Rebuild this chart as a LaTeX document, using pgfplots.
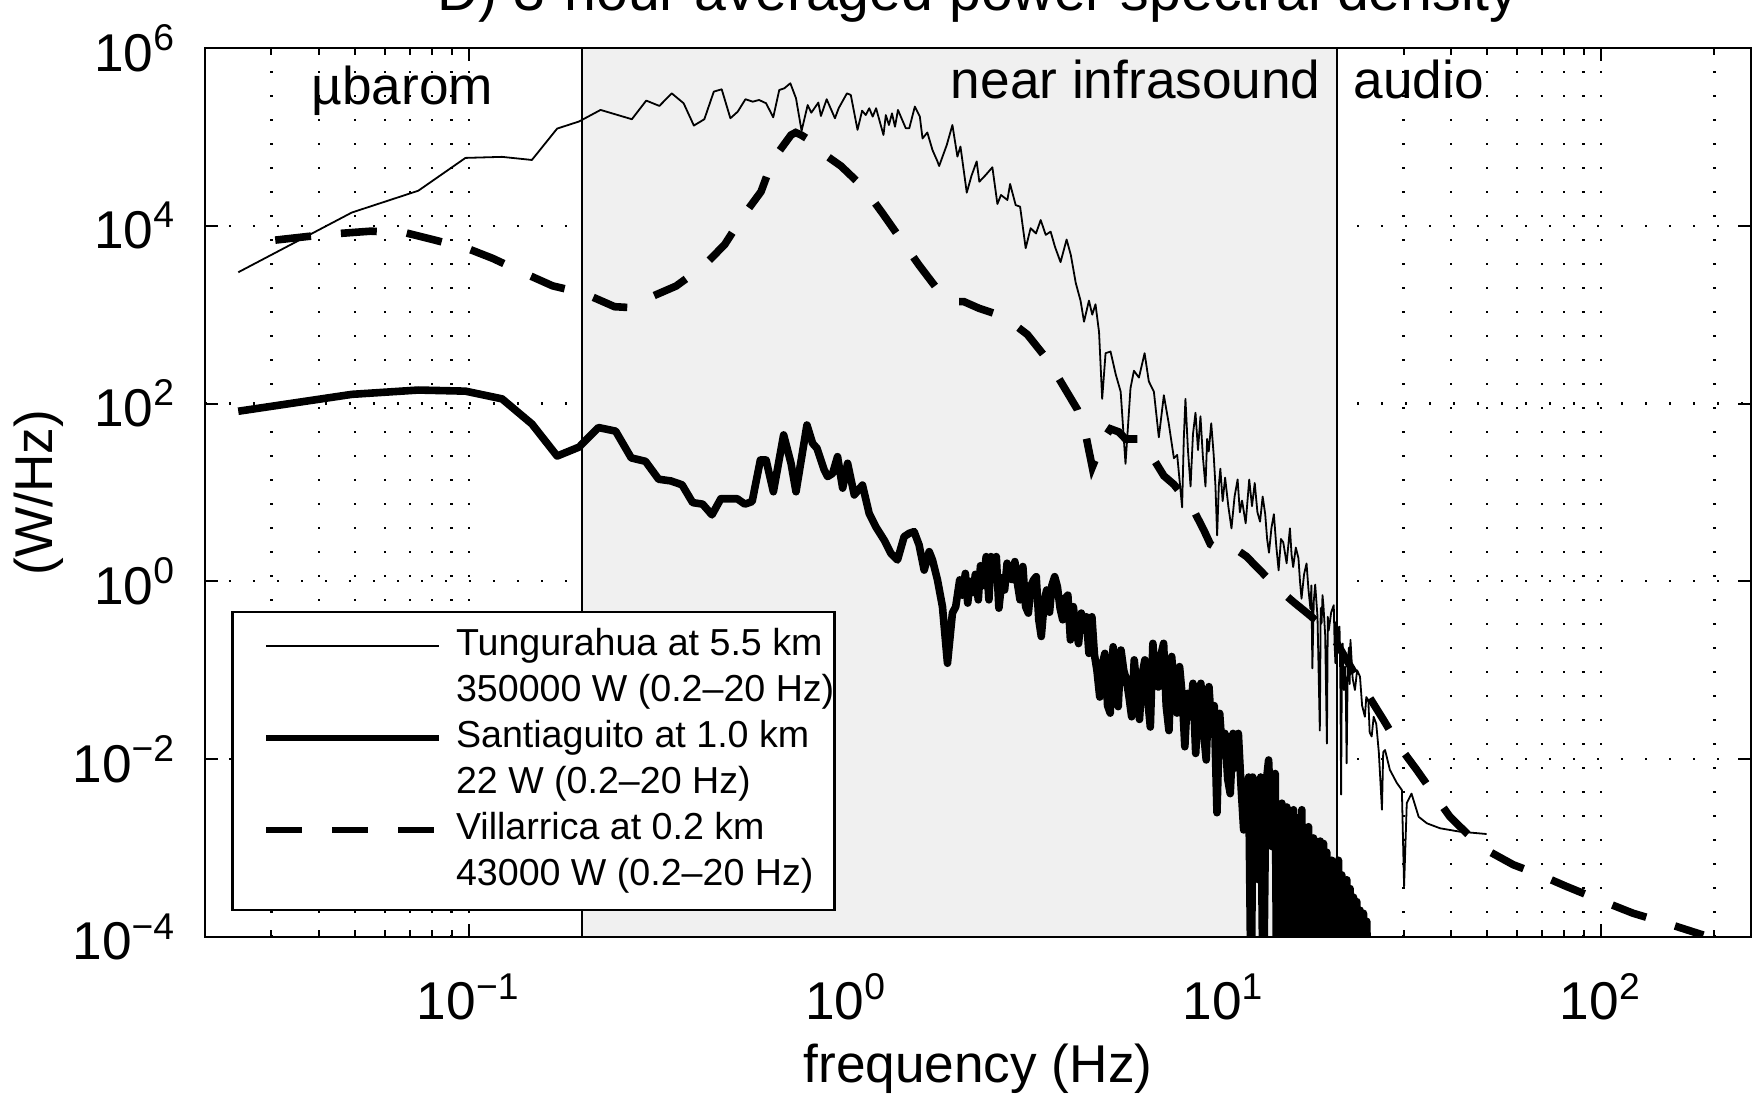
\documentclass[border=0pt]{standalone}
\usepackage{fontspec}
\setmainfont{Liberation Sans}
\usepackage{pgfplots}
\pgfplotsset{compat=1.18}
\definecolor{bandgray}{RGB}{240,240,240}
\newcommand{\lbl}{\fontsize{13.3}{16}\selectfont}

\pgfplotstableread{
f P
0.0245 3.0e3
0.049 1.41e4
0.0735 2.48e4
0.098 5.8e4
0.1225 5.96e4
0.147 5.5e4
0.1715 1.24e5
0.196 1.49e5
0.2235 2.01e5
0.2705 1.58e5
0.2953 2.56e5
0.320 2.23e5
0.345 3.09e5
0.371 2.39e5
0.395 1.34e5
0.421 1.58e5
0.446 3.23e5
0.468 3.43e5
0.4935 1.62e5
0.516 1.92e5
0.541 2.65e5
0.5655 2.49e5
0.588 2.60e5
0.6135 2.39e5
0.641 1.66e5
0.665 3.37e5
0.686 3.52e5
0.7115 4.01e5
0.7365 2.72e5
0.762 1.17e5
0.791 2.28e5
0.8085 1.87e5
0.844 2.43e5
0.8575 1.72e5
0.888 2.65e5
0.934 1.62e5
0.9555 2.10e5
1.005 3.09e5
1.029 2.96e5
1.072 1.20e5
1.1025 1.97e5
1.127 1.76e5
1.1515 2.10e5
1.176 1.69e5
1.2005 2.10e5
1.256 1.05e5
1.274 1.76e5
1.2985 1.36e5
1.323 1.84e5
1.3475 1.30e5
1.372 2.01e5
1.439 1.25e5
1.47 1.25e5
1.521 2.19e5
1.568 1.69e5
1.594 9.6e4
1.6415 1.12e5
1.694 7.1e4
1.746 5.3e4
1.764 4.7e4
1.848 8.1e4
1.913 1.36e5
1.972 6.0e4
2.009 7.8e4
2.088 2.36e4
2.148 3.63e4
2.218 5.3e4
2.254 3.13e4
2.344 3.73e4
2.441 4.55e4
2.517 1.76e4
2.5725 2.22e4
2.675 1.95e4
2.72 2.95e4
2.814 1.71e4
2.891 1.64e4
2.991 5.6e3
3.083 9.4e3
3.185 8.2e3
3.278 1.16e4
3.381 7.9e3
3.483 8.6e3
3.577 5.8e3
3.70 3.9e3
3.84 7.0e3
3.94 4.7e3
4.06 2.27e3
4.18 1.44e3
4.27 834
4.40 1.44e3
4.49 1.0e3
4.58 1.31e3
4.68 636
4.77 113
4.87 369
5.02 385
5.18 214
5.34 136
5.50 21
5.67 149
5.79 234
5.97 196
6.18 369
6.34 178
6.54 136
6.74 41.8
6.95 124
7.16 60
7.39 24.3
7.54 26.5
7.77 6.8
7.85 40
7.93 113
8.05 30
8.18 11.7
8.3 45
8.43 79
8.56 30
8.69 72
8.82 25
8.96 11.7
9.05 40
9.14 29
9.28 60
9.42 26.5
9.52 12
9.62 3.3
9.72 12
9.81 18.5
9.95 8
10.1 14.7
10.3 7
10.5 3.95
10.7 9
10.9 14.0
11.05 6
11.2 8.1
11.45 4.5
11.7 14.0
11.9 7
12.1 12.8
12.3 6
12.5 4.7
12.7 9
12.9 5.7
13.05 3
13.2 2.1
13.4 4
13.6 5.7
13.8 2.5
14.0 1.33
14.2 3
14.4 2.75
14.7 1.6
15.0 3.95
15.15 2
15.3 1.45
15.55 2.4
15.8 1.82
15.95 1.0
16.1 0.64
16.35 1.2
16.6 1.59
16.8 0.8
17.0 0.49
17.1 0.9
17.2 0.105
17.35 0.6
17.5 0.92
17.75 0.4
18.0 0.021
18.1 0.5
18.2 0.34
18.3 0.7
18.4 0.54
18.6 0.25
18.8 0.015
18.9 0.4
19.0 0.28
19.3 0.45
19.6 0.54
19.7 0.2
19.8 0.12
19.9 0.35
20.0 0.17
20.15 0.3
20.3 0.31
20.4 0.08
20.5 4.0e-3
20.6 0.15
20.7 0.2
20.85 0.06
21.0 0.11
21.1 0.05
21.2 9e-3
21.35 0.12
21.5 0.18
21.6 0.07
21.7 0.22
22.0 0.08
22.3 0.06
22.6 0.1
23.0 0.085
23.3 0.04
23.7 0.030
23.9 0.05
24.2 0.046
24.4 0.02
24.7 0.018
25.0 0.03
25.4 0.025
25.8 0.012
26.3 2.7e-3
26.5 0.012
26.8 0.0127
27.6 7.6e-3
28.8 5.4e-3
29.7 4.5e-3
30.1 3.7e-4
30.6 3.2e-3
31.5 4.1e-3
32.9 2.25e-3
34.6 1.9e-3
37.5 1.67e-3
42.3 1.53e-3
49.8 1.44e-3
}\tungurahua

\pgfplotstableread{
f P
0.0307 6.9e3
0.0376 7.6e3
0.0455 8.2e3
0.055 8.7e3
0.0683 8.3e3
0.0803 7.0e3
0.0998 5.5e3
0.1157 4.3e3
0.1418 2.87e3
0.1668 2.11e3
0.202 1.74e3
0.2434 1.23e3
0.27 1.2e3
0.2983 1.53e3
0.3544 2.1e3
0.417 3.47e3
0.476 6.1e3
0.532 1.27e4
0.595 2.42e4
0.639 5.5e4
0.7145 1.05e5
0.735 1.12e5
0.76 1.05e5
0.84 8.1e4
0.893 6.0e4
0.969 4.7e4
1.117 2.64e4
1.249 1.38e4
1.411 6.6e3
1.561 3.6e3
1.764 1.82e3
1.932 1.40e3
2.053 1.40e3
2.25 1.18e3
2.62 950
3.02 600
3.41 315
3.70 178
4.10 86
4.31 45.7
4.49 19.3
4.63 26.6
4.82 40
5.02 52
5.28 48
5.50 40
5.97 40
6.34 29
6.95 15.4
7.39 12.3
8.26 6.8
8.87 3.77
9.23 2.62
9.72 2.29
10.65 2.39
11.5 1.91
12.5 1.33
13.9 0.84
15.3 0.59
17.0 0.41
18.8 0.28
20.0 0.2
22.0 0.1
24.0 0.055
26.5 0.028
29.4 0.0135
32.5 7.6e-3
36.0 4.1e-3
39.8 2.26e-3
44.1 1.47e-3
49.8 9.5e-4
58.6 6.5e-4
68.9 5.0e-4
81.1 3.7e-4
99.4 2.6e-4
121.7 1.85e-4
149 1.43e-4
187 1.05e-4
}\villarrica

\pgfplotstableread{
f P
0.0245 82
0.049 127
0.0735 142
0.098 138
0.1225 113
0.147 59
0.1715 25.7
0.196 32.4
0.2205 53.8
0.245 49
0.2695 24.5
0.294 22.4
0.3185 14.1
0.343 13.5
0.3675 12.2
0.392 7.7
0.4165 7.4
0.441 5.6
0.4655 8.5
0.49 8.5
0.5145 8.5
0.539 7.4
0.5635 7.9
0.5926 23.2
0.6135 23.2
0.6415 10.2
0.683 44.4
0.7145 21.3
0.7365 10.2
0.7874 57.4
0.815 35.7
0.837 31.4
0.875 17.9
0.893 15.1
0.921 16.4
0.949 25.3
0.979 11.2
1.009 21.3
1.051 9.4
1.105 12.1
1.151 5.8
1.199 4.1
1.261 2.92
1.314 2.07
1.368 1.74
1.425 3.19
1.469 3.47
1.514 3.63
1.561 2.57
1.61 1.34
1.66 2.16
1.694 1.74
1.746 1.04
1.80 0.52
1.856 0.12
1.913 0.44
1.952 0.52
2.00 1.04
2.03 0.7
2.07 1.23
2.10 0.57
2.13 1.0
2.17 0.75
2.20 1.2
2.24 0.62
2.27 1.5
2.31 0.9
2.35 1.9
2.39 0.62
2.42 1.9
2.46 1.2
2.50 1.9
2.54 0.5
2.59 1.1
2.63 0.8
2.67 1.6
2.71 1.1
2.76 1.04
2.80 1.67
2.85 0.9
2.89 0.62
2.94 1.47
2.99 0.52
3.04 0.44
3.09 0.9
3.14 1.04
3.19 1.13
3.24 0.37
3.29 0.24
3.35 0.6
3.40 0.8
3.46 0.45
3.51 0.9
3.57 1.13
3.63 0.87
3.69 0.5
3.75 0.37
3.81 0.65
3.87 0.7
3.93 0.22
4.00 0.52
4.06 0.3
4.13 0.2
4.20 0.44
4.26 0.31
4.33 0.4
4.40 0.155
4.48 0.4
4.55 0.15
4.62 0.1
4.70 0.05
4.78 0.12
4.85 0.155
4.93 0.04
5.01 0.033
5.10 0.184
5.18 0.09
5.26 0.039
5.35 0.169
5.44 0.1
5.53 0.078
5.62 0.05
5.71 0.03
5.80 0.131
5.90 0.06
5.99 0.028
6.09 0.09
6.19 0.131
6.29 0.05
6.40 0.023
6.50 0.201
6.61 0.07
6.72 0.065
6.83 0.15
6.94 0.201
7.05 0.04
7.17 0.021
7.29 0.143
7.41 0.06
7.53 0.033
7.65 0.11
7.78 0.05
7.90 0.0138
8.03 0.055
8.17 0.03
8.30 0.0714
8.44 0.0116
8.57 0.04
8.71 0.0714
8.86 0.02
9.00 0.0098
9.15 0.0655
9.30 0.0232
9.45 0.04
9.61 0.0025
9.77 0.0328
9.93 0.012
10.09 0.0195
10.26 0.006
10.42 0.0041
10.6 0.0195
10.77 0.008
10.95 0.0195
11.13 0.005
11.31 0.0016
11.5 4e-3
11.66 6.3e-3
11.85 1e-5
11.95 6.3e-3
12.14 5e-3
12.39 4.4e-4
12.55 6.3e-3
12.75 1e-5
12.95 5e-3
13.17 9.8e-3
13.44 1.04e-3
13.71 6.9e-3
13.85 1e-5
14.0 3e-3
14.14 1e-5
14.28 3.2e-3
14.43 1e-5
14.58 1.23e-3
14.72 2.9e-3
14.87 1e-5
15.03 2.5e-3
15.18 1.85e-4
15.33 2.7e-3
15.49 1e-5
15.65 2.2e-3
15.81 1.04e-3
15.97 1e-5
16.13 2.7e-3
16.3 1e-5
16.46 1.5e-3
16.63 1e-5
16.80 1.74e-3
16.97 2.8e-4
17.15 1e-5
17.32 1.3e-3
17.50 1e-5
17.68 1.1e-3
17.86 1e-5
18.04 1.2e-3
18.22 1e-5
18.41 1.13e-3
18.6 1e-5
18.78 9e-4
18.98 2.8e-4
19.17 1e-5
19.37 7.3e-4
19.56 1e-5
19.76 6e-4
19.97 1e-5
20.17 7.3e-4
20.37 1e-5
20.58 5e-4
20.79 1.85e-4
21.0 1e-5
21.23 4.4e-4
21.44 1e-5
21.66 3.5e-4
21.88 1e-5
22.11 2.8e-4
22.33 1e-5
22.56 2.5e-4
22.79 1e-5
23.01 2e-4
23.25 1e-5
23.49 1.85e-4
23.73 1e-5
23.97 1.5e-4
24.22 1e-5
}\santiaguito

\begin{document}
\begin{tikzpicture}
\begin{axis}[
  scale only axis, width=386.5pt, height=222.25pt,
  xmode=log, ymode=log, log basis x=10, log basis y=10,
  xmin=0.02, xmax=250, ymin=1e-4, ymax=1e6,
  xtick={0.1,1,10,100},
  xticklabels={10\textsuperscript{−1},10\textsuperscript{0},10\textsuperscript{1},10\textsuperscript{2}},
  minor xtick={0.03,0.04,0.05,0.06,0.07,0.08,0.09,0.2,0.3,0.4,0.5,0.6,0.7,0.8,0.9,2,3,4,5,6,7,8,9,20,30,40,50,60,70,80,90,200},
  ytick={1e-4,1e-2,1,1e2,1e4,1e6},
  yticklabels={10\textsuperscript{−4},10\textsuperscript{−2},10\textsuperscript{0},10\textsuperscript{2},10\textsuperscript{4},10\textsuperscript{6}},
  yminorticks=false,
  tick align=inside,
  major tick length=3.2pt, minor tick length=1.8pt,
  tick style={black, line width=0.5pt},
  xmajorgrids, xminorgrids, ymajorgrids,
  major grid style={black, line width=0.55pt, dash pattern=on 0.55pt off 5.45pt},
  minor grid style={black, line width=0.55pt, dash pattern=on 0.55pt off 5.45pt},
  axis line style={line width=0.6pt},
  tick label style={font=\lbl},
  xticklabel style={anchor=base, yshift=-20.75pt},
  yticklabel style={anchor=east, inner sep=0pt, xshift=-7pt},
  label style={font=\lbl},
  xlabel={frequency (Hz)},
  ylabel={(W/Hz)},
  xlabel style={at={(axis description cs:0.5,0)}, anchor=base, yshift=-36.3pt},
  ylabel style={at={(axis description cs:-0.1074,0.5)}, anchor=center},
  clip mode=individual,
  legend cell align=left,
  legend style={at={(axis description cs:0.0171,0.029)}, anchor=south west,
    draw=black, line width=0.6pt, fill=white,
    inner xsep=0pt, inner ysep=3.9pt,
    font=\fontsize{9.4}{11}\selectfont,
    row sep=2.3pt, column sep=3.3pt,
    nodes={inner sep=0pt, text height=7pt, text depth=2.2pt}},
  legend image code/.code={\path[draw=none, fill=none] (0pt,-4.6pt) rectangle (51.7pt,4.6pt);
    \draw[#1] (8.4pt,0pt) -- (51.7pt,0pt);},
]
% shaded near-infrasound band
\addplot[fill=bandgray, draw=none, forget plot] coordinates {(0.2,1e-4) (0.2,1e6) (20,1e6) (20,1e-4) (0.2,1e-4)};
\addplot[black, line width=0.5pt, forget plot] coordinates {(0.2,1e-4) (0.2,1e6)};
\addplot[black, line width=0.5pt, forget plot] coordinates {(20,1e-4) (20,1e6)};

\addplot[black, line width=0.45pt, line join=round, forget plot] table[x=f, y=P] {\tungurahua};
\addplot[black, line width=1.9pt, dash pattern=on 9pt off 7.5pt, forget plot] table[x=f, y=P] {\villarrica};
\addplot[black, line width=1.9pt, line join=round, forget plot] table[x=f, y=P] {\santiaguito};

\addlegendimage{black, line width=0.45pt}
\addlegendentry{Tungurahua at 5.5 km}
\addlegendimage{empty legend}
\addlegendentry{350000 W (0.2–20 Hz)}
\addlegendimage{black, line width=1.7pt}
\addlegendentry{Santiaguito at 1.0 km}
\addlegendimage{empty legend}
\addlegendentry{22 W (0.2–20 Hz)}
\addlegendimage{black, line width=1.7pt, dash pattern=on 9pt off 7.5pt}
\addlegendentry{Villarrica at 0.2 km}
\addlegendimage{empty legend}
\addlegendentry{43000 W (0.2–20 Hz)}

\draw[line width=0.6pt] (rel axis cs:0,0) rectangle (rel axis cs:1,1);
\node[font=\lbl, anchor=base west, inner sep=0pt, xshift=26.45pt, yshift=-14.1pt] at (rel axis cs:0,1) {µbarom};
\node[font=\lbl, anchor=base east, inner sep=0pt, xshift=-3.9pt, yshift=-12.75pt] at (axis cs:20,1e6) {near infrasound};
\node[font=\lbl, anchor=base west, inner sep=0pt, xshift=3.9pt, yshift=-12.75pt] at (axis cs:20,1e6) {audio};
\node[font=\fontsize{14.3}{16}\selectfont, anchor=base, inner sep=0pt, yshift=9.25pt] at (rel axis cs:0.5,1) {D) 3-hour averaged power spectral density};
\coordinate (SW) at (rel axis cs:0,0);
\coordinate (NE) at (rel axis cs:1,1);
\end{axis}
\pgfresetboundingbox
\path[use as bounding box] ([xshift=-51.25pt,yshift=-40pt]SW) rectangle ([xshift=0.5pt,yshift=12pt]NE);
\end{tikzpicture}
\end{document}
